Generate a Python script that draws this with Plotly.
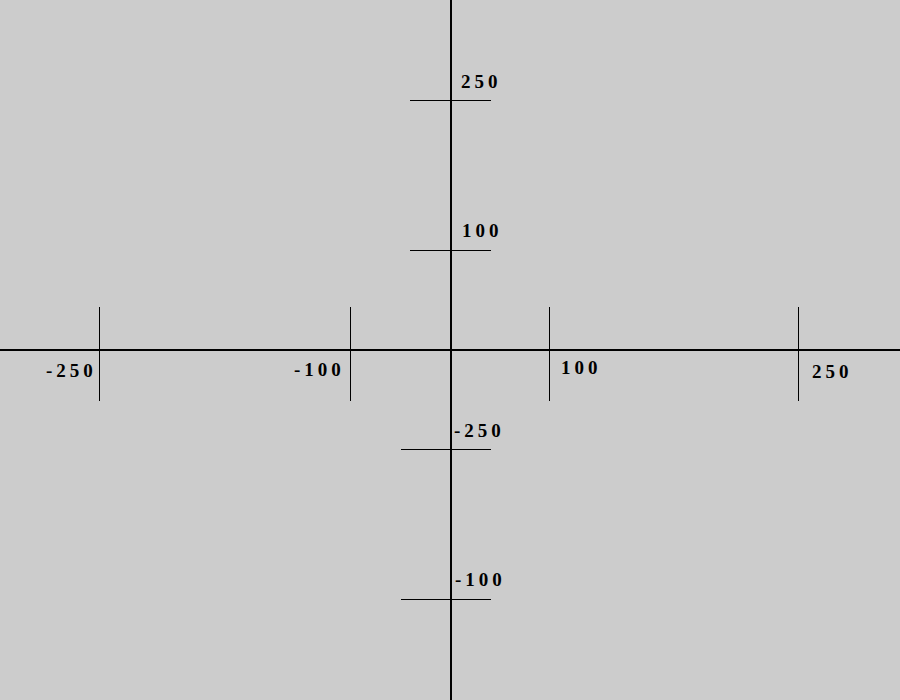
import plotly.graph_objects as go

# Tick values (axis units, 1 unit = 1 px, origin at centre) and their labels
x_tick_values = [-351.5, -100.5, 98.5, 347.5]
x_tick_labels = ["-250", "-100", "100", "250"]
y_tick_values = [249.5, 99.5, -99.5, -249.5]
y_tick_labels = ["250", "100", "-250", "-100"]

fig = go.Figure()

# x-axis tick marks (vertical)
for xv in x_tick_values:
    fig.add_trace(go.Scatter(x=[xv, xv], y=[43, -51], mode="lines",
                             line=dict(color="black", width=1),
                             hoverinfo="skip", showlegend=False))

# y-axis tick marks (horizontal)
y_tick_extent = {249.5: (-41, 40), 99.5: (-41, 40), -99.5: (-50, 40), -249.5: (-50, 40)}
for yv in y_tick_values:
    x0, x1 = y_tick_extent[yv]
    fig.add_trace(go.Scatter(x=[x0, x1], y=[yv, yv], mode="lines",
                             line=dict(color="black", width=1),
                             hoverinfo="skip", showlegend=False))

font = dict(family="Liberation Serif", size=19, color="black", weight="bold")


def spaced(t):
    return '<span style="letter-spacing:4px">' + t + '</span>'


x_label_shift = [(-28, -20), (-31, -19), (32, -17), (34, -21)]
for xv, lab, (dx, dy) in zip(x_tick_values, x_tick_labels, x_label_shift):
    fig.add_annotation(x=xv, y=0, text=spaced(lab), showarrow=False, font=font,
                       xshift=dx, yshift=dy)

y_label_shift = [(30, 19), (31, 20), (28, 19), (29, 20)]
for yv, lab, (dx, dy) in zip(y_tick_values, y_tick_labels, y_label_shift):
    fig.add_annotation(x=0, y=yv, text=spaced(lab), showarrow=False, font=font,
                       xshift=dx, yshift=dy)

axis_common = dict(showgrid=False, showticklabels=False, ticks="",
                   zeroline=True, zerolinecolor="black", zerolinewidth=2,
                   showline=False, fixedrange=True)

fig.update_layout(
    width=900, height=700,
    margin=dict(l=0, r=0, t=0, b=0),
    paper_bgcolor="#cccccc", plot_bgcolor="#cccccc",
    xaxis=dict(range=[-451, 449], **axis_common),
    yaxis=dict(range=[-350, 350], **axis_common),
    showlegend=False,
)

fig.write_html("out.html", config={"displayModeBar": False},
               post_script="document.body.style.margin='0';document.body.style.overflow='hidden';")
